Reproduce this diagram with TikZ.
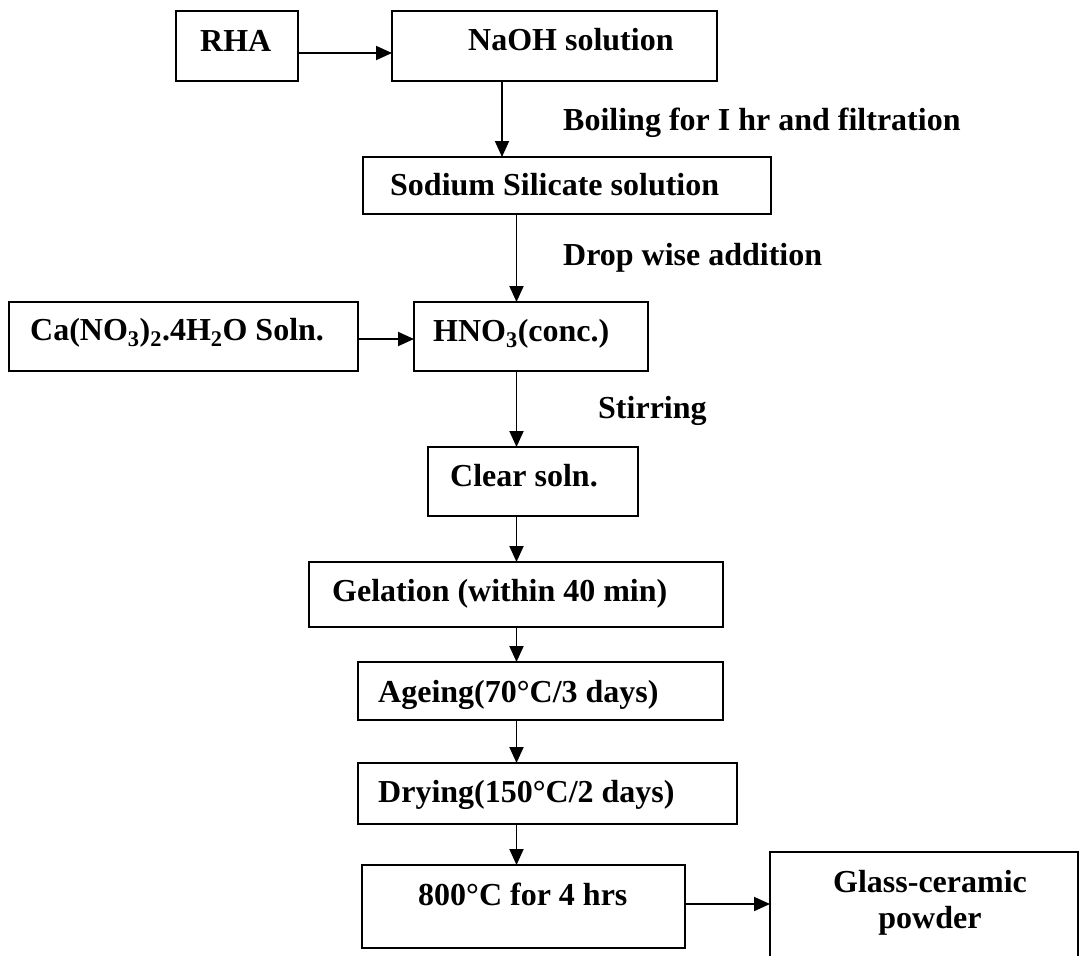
\documentclass[tikz,border=0pt]{standalone}
\usepackage{fontspec}
\setmainfont{Liberation Serif}
\usetikzlibrary{arrows.meta}
\newcommand\mkbox[5]{\node[box, minimum width={(#4-#2)*1pt}, minimum height={(#5-#3)*1pt}] (#1) at ({(#2+#4)/2},{(#3+#5)/2}) {};}
\begin{document}
\begin{tikzpicture}[x=1pt,y=-1pt,
  box/.style={draw, line width=1.9pt, inner sep=0pt, outer sep=0pt, rectangle},
  txt/.style={inner sep=0pt, font=\fontsize{32}{36}\selectfont\bfseries, anchor=base west},
  ctxt/.style={txt, anchor=base},
  arr/.style={line width=1.9pt, -{Triangle[length=16pt,width=14pt]}}]
\useasboundingbox (0,0) rectangle (1082,956);
\clip (0,0) rectangle (1082,956);
% boxes
\mkbox{rha}{176}{11}{298}{81}
\mkbox{naoh}{392}{11}{717}{81}
\mkbox{sil}{363}{157}{771}{214}
\mkbox{ca}{9}{302}{358}{371}
\mkbox{hno}{414}{302}{648}{371}
\mkbox{clear}{428}{447}{638}{516}
\mkbox{gel}{309}{562}{723}{627}
\mkbox{age}{358}{662}{723}{720}
\mkbox{dry}{358}{763}{737}{824}
\mkbox{heat}{362}{865}{685}{948}
\mkbox{glass}{770}{852}{1078}{975}
% texts
\node[txt] (trha) at (200,51) {RHA};
\node[txt] (tnaoh) at (468,50) {NaOH solution};
\node[txt] (tboil) at (563,130) {Boiling for I hr and filtration};
\node[txt] (tsil) at (390,195) {Sodium Silicate solution};
\node[txt] (tdrop) at (563,265) {Drop wise addition};
\node[txt] (tca) at (30,340) {Ca(NO\textsubscript{3})\textsubscript{2}.4H\textsubscript{2}O Soln.};
\node[txt] (thno) at (433,341) {HNO\textsubscript{3}(conc.)};
\node[txt] (tstir) at (598,418) {Stirring};
\node[txt] (tclear) at (450,486) {Clear soln.};
\node[txt] (tgel) at (332,601) {Gelation (within 40 min)};
\node[txt] (tage) at (378,702) {Ageing(70°C/3 days)};
\node[txt] (tdry) at (378,802) {Drying(150°C/2 days)};
\node[txt] (theat) at (418,905) {800°C for 4 hrs};
\node[ctxt] (tglass1) at (930,892) {Glass-ceramic};
\node[ctxt] (tglass2) at (930,928) {powder};
% connector guides
\coordinate (sp) at (516.5,0);
\coordinate (sp2) at (502,0);
\coordinate (h1) at (0,53);
\coordinate (h2) at (0,339);
\coordinate (h3) at (0,904);
% arrows
\draw[arr] (rha.east |- h1) -- (naoh.west |- h1);
\draw[arr] (naoh.south -| sp2) -- (sil.north -| sp2);
\draw[arr] (sil.south -| sp) -- (hno.north -| sp);
\draw[arr] (ca.east |- h2) -- (hno.west |- h2);
\draw[arr] (hno.south -| sp) -- (clear.north -| sp);
\draw[arr] (clear.south -| sp) -- (gel.north -| sp);
\draw[arr] (gel.south -| sp) -- (age.north -| sp);
\draw[arr] (age.south -| sp) -- (dry.north -| sp);
\draw[arr] (dry.south -| sp) -- (heat.north -| sp);
\draw[arr] (heat.east |- h3) -- (glass.west |- h3);
\end{tikzpicture}
\end{document}
